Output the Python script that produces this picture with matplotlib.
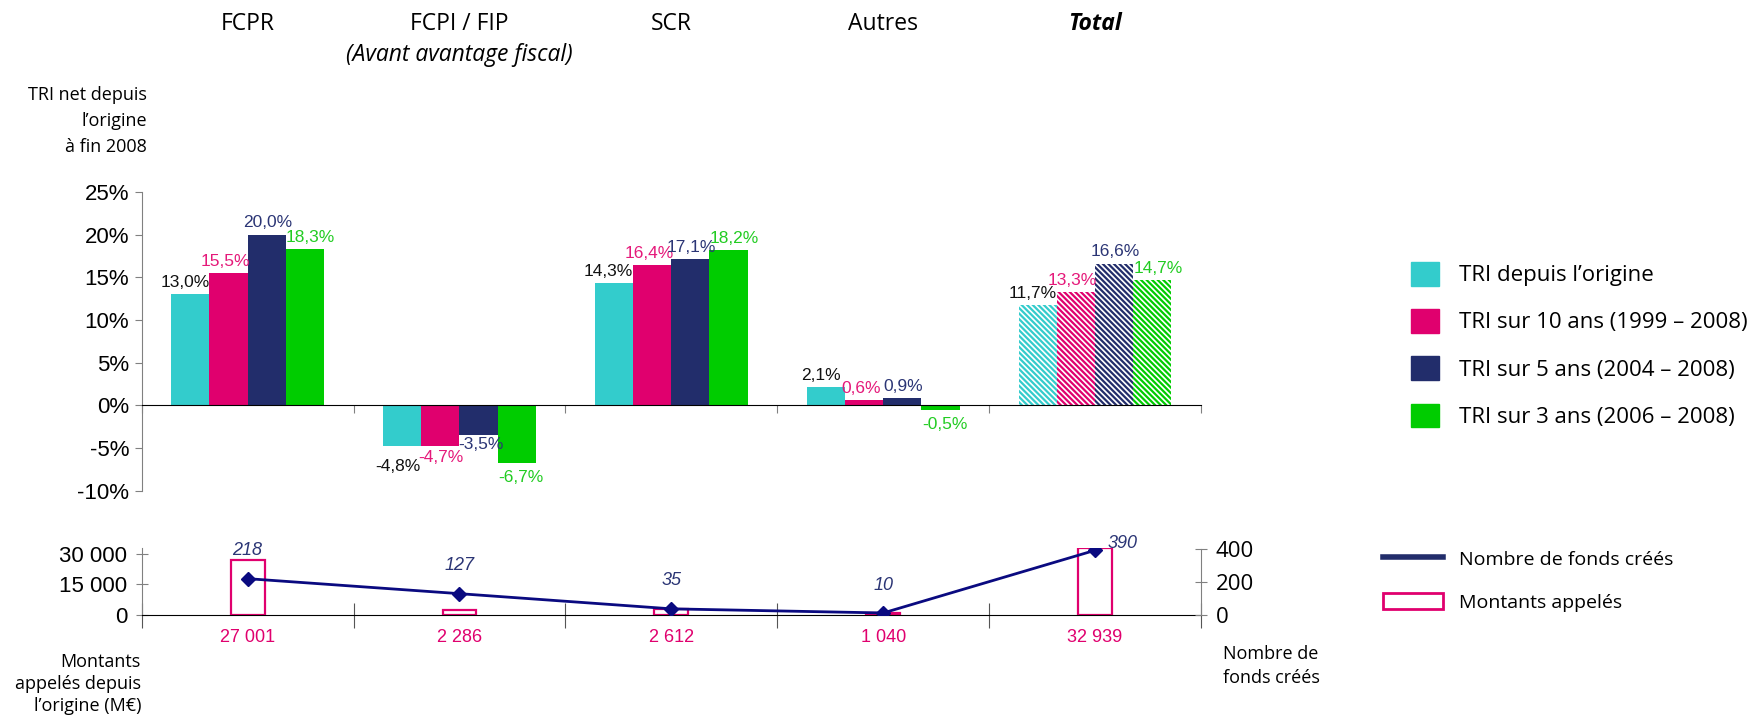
import numpy as np
import matplotlib
matplotlib.use('Agg')
import matplotlib.pyplot as plt
import matplotlib.transforms as mtransforms
from matplotlib.patches import Patch
from matplotlib.lines import Line2D

categories = ['FCPR', 'FCPI / FIP', 'SCR', 'Autres', 'Total']
series_names = ['TRI depuis l\u2019origine', 'TRI sur 10 ans (1999 \u2013 2008)',
                'TRI sur 5 ans (2004 \u2013 2008)', 'TRI sur 3 ans (2006 \u2013 2008)']
tri_origine = [13.0, -4.8, 14.3, 2.1, 11.7]
tri_10ans = [15.5, -4.7, 16.4, 0.6, 13.3]
tri_5ans = [20.0, -3.5, 17.1, 0.9, 16.6]
tri_3ans = [18.3, -6.7, 18.2, -0.5, 14.7]
montants = [27001, 2286, 2612, 1040, 32939]
nb_fonds = [218, 127, 35, 10, 390]

bar_colors = ['#33CCCC', '#E0006E', '#222D6B', '#00CC00']
label_colors = ['#111111', '#E5197A', '#2B3575', '#22CC22']
# label nudges (points), mimicking the hand-placed Excel labels
pos_shift = [-4, -2.5, 1, 4]
neg_shift = [-3, 0, 2, 3]
neg_drop = [-9, -3, -1, -5]
pink = '#E0006E'
navy_line = '#0A0A80'

txt_font = ['Open Sans', 'DejaVu Sans']
num_font = ['Liberation Sans Narrow', 'Liberation Sans', 'DejaVu Sans']
plt.rcParams['font.family'] = txt_font
plt.rcParams['hatch.linewidth'] = 1.6


def fr(v, dec=1):
    return f'{v:.{dec}f}%'.replace('.', ',')


def thousands(v):
    return f'{v:,}'.replace(',', ' ')


fig = plt.figure(figsize=(17.49, 7.15), dpi=100)
ax = fig.add_axes([0.081, 0.3136, 0.6057, 0.4181])

x = np.arange(len(categories))
w = 0.18
all_series = [tri_origine, tri_10ans, tri_5ans, tri_3ans]
handles = []
for k, vals in enumerate(all_series):
    pos = x + (k - 1.5) * w
    for i, v in enumerate(vals):
        if categories[i] == 'Total':
            ax.bar(pos[i], v, w, facecolor='white', edgecolor=bar_colors[k],
                   linewidth=0, hatch='\\' * 6)
        else:
            ax.bar(pos[i], v, w, color=bar_colors[k], linewidth=0)
        if v >= 0:
            off, va = (pos_shift[k], 3), 'bottom'
        else:
            off, va = (neg_shift[k], neg_drop[k]), 'top'
        ax.annotate(fr(v), (pos[i], v), xytext=off, textcoords='offset points',
                    ha='center', va=va, color=label_colors[k], fontsize=12.5, family=num_font)
    handles.append(Patch(color=bar_colors[k], label=series_names[k]))

ax.set_xlim(-0.5, len(categories) - 0.5)
ax.set_ylim(-10, 25)
ax.set_yticks(np.arange(-10, 26, 5))
ax.set_yticklabels([f'{t}%' for t in range(-10, 26, 5)], family=num_font, fontsize=16)
ax.set_xticks(np.arange(-0.5, len(categories), 1))
ax.set_xticklabels([])
ax.spines['top'].set_visible(False)
ax.spines['right'].set_visible(False)
ax.spines['bottom'].set_position(('data', 0))
ax.spines['bottom'].set_color('black')
ax.spines['left'].set_color('#808080')
ax.tick_params(axis='y', direction='out', length=5, color='#808080', pad=4)
ax.tick_params(axis='x', direction='out', length=6, color='#808080')

# category headers above the chart
head_tr = mtransforms.blended_transform_factory(ax.transData, fig.transFigure)
for i, c in enumerate(categories):
    if c == 'Total':
        ax.text(i, 1 - 24.5 / 715, c, transform=head_tr, ha='center', va='center',
                fontsize=16.5, fontweight='bold', fontstyle='italic')
    else:
        ax.text(i, 1 - 24.5 / 715, c, transform=head_tr, ha='center', va='center',
                fontsize=16.5)
ax.text(1, 1 - 55 / 715, '(Avant avantage fiscal)', ha='center', va='center',
        transform=head_tr, fontsize=16.5, fontstyle='italic')

fig.text(147 / 1749, 1 - 121 / 715, 'TRI net depuis\nl\u2019origine\nà fin 2008', ha='right',
         va='center', multialignment='right', fontsize=13, linespacing=1.55)

fig.legend(handles=handles, loc='upper left', bbox_to_anchor=(1411 / 1749, 1 - 262 / 715),
           frameon=False, fontsize=16, handlelength=1.26, handleheight=1.26,
           labelspacing=1.03, handletextpad=0.9, borderpad=0, borderaxespad=0)

# lower panel
ax2 = fig.add_axes([0.081, 0.1404, 0.6057, 0.0931])
ax2.bar(x, montants, 0.16, facecolor='white', edgecolor=pink, linewidth=1.6)
ax2.set_xlim(-0.5, len(categories) - 0.5)
ax2.set_ylim(0, 33000)
ax2.set_yticks([0, 15000, 30000])
ax2.set_yticklabels([thousands(t) for t in [0, 15000, 30000]], family=num_font, fontsize=16)
ax2.set_xticks(np.arange(-0.5, len(categories), 1))
ax2.set_xticklabels([])
ax2.tick_params(axis='y', direction='inout', length=9, color='#808080', pad=6)
ax2.tick_params(axis='x', direction='inout', length=18, color='#555555')
for i, m in enumerate(montants):
    ax2.annotate(thousands(m), (i, 0), xytext=(0, -10), textcoords='offset points',
                 ha='center', va='top', color=pink, fontsize=13, family=num_font)
ax2.spines['top'].set_visible(False)
ax2.spines['right'].set_visible(False)
ax2.spines['bottom'].set_color('black')
ax2.spines['left'].set_color('#808080')
ax2.patch.set_alpha(0)

ax3 = ax2.twinx()
ax3.plot(x, nb_fonds, color=navy_line, lw=2, marker='D', markersize=7)
ax3.set_ylim(0, 400 * 66.6 / 66)
ax3.set_yticks([0, 200, 400])
ax3.set_yticklabels(['0', '200', '400'], fontsize=16, family=txt_font)
ax3.tick_params(axis='y', direction='inout', length=9, color='#808080', pad=6)
for s in ['top', 'left', 'bottom']:
    ax3.spines[s].set_visible(False)
ax3.spines['right'].set_color('#808080')
ax3.spines['right'].set_bounds(0, 400)
for i, n in enumerate(nb_fonds):
    if i == len(nb_fonds) - 1:
        ax3.annotate(str(n), (i, n), xytext=(9, 5), textcoords='offset points', ha='left',
                     va='center', color='#2B3575', fontsize=13, fontstyle='italic',
                     family=num_font)
    else:
        ax3.annotate(str(n), (i, n), xytext=(0, 14), textcoords='offset points', ha='center',
                     va='bottom', color='#2B3575', fontsize=13, fontstyle='italic',
                     family=num_font)

fig.text(141 / 1749, 1 - 684 / 715, 'Montants\nappelés depuis\nl\u2019origine (M€)', ha='right',
         va='center', multialignment='right', fontsize=13, linespacing=1.3)
fig.text(1223 / 1749, 1 - 666 / 715, 'Nombre de\nfonds créés', ha='left',
         va='center', multialignment='left', fontsize=13, linespacing=1.45)

low_handles = [Line2D([0], [0], color='#222D6B', lw=4, label='Nombre de fonds créés'),
               Patch(facecolor='white', edgecolor=pink, linewidth=2, label='Montants appelés')]
fig.legend(handles=low_handles, loc='upper left', bbox_to_anchor=(1383 / 1749, 1 - 550 / 715),
           frameon=False, fontsize=14, handlelength=3.1, handleheight=0.9,
           labelspacing=1.25, handletextpad=0.8, borderpad=0, borderaxespad=0)

fig.savefig('out.png', dpi=100)
